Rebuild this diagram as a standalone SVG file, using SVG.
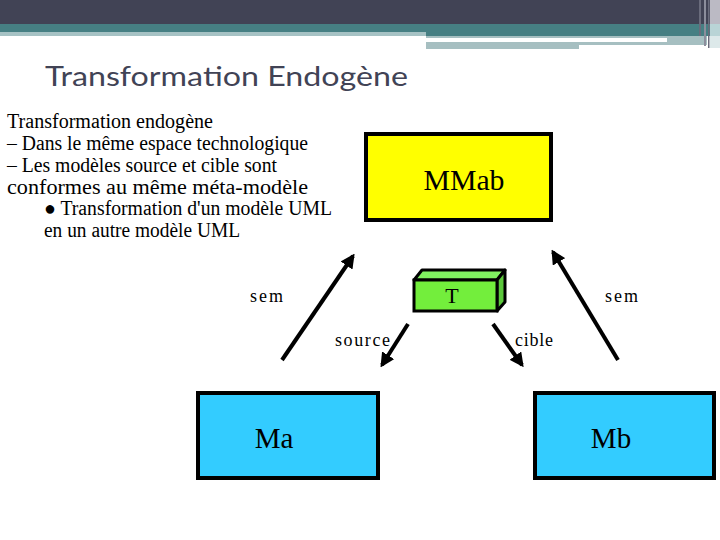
<svg xmlns="http://www.w3.org/2000/svg" width="720" height="540" viewBox="0 0 720 540">
<defs>
<style>
.body{font-family:"Liberation Serif","Times New Roman",serif;font-size:20px;fill:#000}
.lbl{font-family:"Liberation Serif","Times New Roman",serif;font-size:18px;fill:#000}
.big{font-family:"Liberation Serif","Times New Roman",serif;font-size:29px;fill:#000;text-anchor:middle}
.box{stroke:#000;stroke-width:4}
.arr{stroke:#000;stroke-width:4;fill:none;marker-end:url(#ah)}
</style>
<marker id="ah" viewBox="0 0 10 10" refX="8" refY="5" markerWidth="3.6" markerHeight="3.6" orient="auto" markerUnits="strokeWidth">
<path d="M0,0 L10,5 L0,10 z" fill="#000"/>
</marker>
</defs>
<rect width="720" height="540" fill="#fff"/>
<g id="header">
<rect x="0" y="0" width="720" height="24" fill="#414355"/>
<rect x="0" y="24" width="720" height="8" fill="#467F83"/>
<rect x="0" y="32" width="426" height="4" fill="#A6C2C4"/>
<rect x="426" y="32" width="294" height="4" fill="#467F83"/>
<rect x="426" y="36" width="241" height="2" fill="#A6BFC1"/>
<rect x="426" y="42" width="153" height="7" fill="#A6BFC1"/>
<rect x="579" y="42" width="128" height="3" fill="#A6BFC1"/>
<rect x="667" y="36" width="40" height="9" fill="#A6BFC1"/>
<rect x="699" y="0" width="2" height="36" fill="#6A6C7C"/>
<rect x="704" y="0" width="2" height="46" fill="#8C8E9C"/>
<rect x="708" y="0" width="1.5" height="48" fill="#6A6C7C"/>
<rect x="710" y="0" width="10" height="24" fill="#BBBAC4"/>
<rect x="710" y="24" width="10" height="12" fill="#B9D4D6"/>
<rect x="710" y="36" width="10" height="12" fill="#DDE9EA"/>
</g>
<text x="45" y="86" font-family="Lato,'Open Sans',sans-serif" font-size="27" fill="#414355" textLength="363" lengthAdjust="spacingAndGlyphs">Transformation Endogène</text>
<g id="desc">
<text class="body" x="7" y="128" textLength="206" lengthAdjust="spacingAndGlyphs">Transformation endogène</text>
<text class="body" x="7" y="150" textLength="301" lengthAdjust="spacingAndGlyphs">– Dans le même espace technologique</text>
<text class="body" x="7" y="172" textLength="270" lengthAdjust="spacingAndGlyphs">– Les modèles source et cible sont</text>
<text class="body" x="7" y="194" textLength="301" lengthAdjust="spacingAndGlyphs">conformes au même méta-modèle</text>
<text class="body" x="44" y="215" textLength="288" lengthAdjust="spacingAndGlyphs">● Transformation d'un modèle UML</text>
<text class="body" x="44" y="237" textLength="196" lengthAdjust="spacingAndGlyphs">en un autre modèle UML</text>
</g>
<g id="MMab">
<rect class="box" x="366" y="134" width="185" height="86" fill="#FFFF00"/>
<text class="big" x="464" y="190" textLength="81" lengthAdjust="spacingAndGlyphs">MMab</text>
</g>
<g id="T">
<polygon points="414,280 422,270 505,270 497,280" fill="#80F060" stroke="#000" stroke-width="3" stroke-linejoin="round"/>
<polygon points="497,280 505,270 505,302 497,311" fill="#5CC83C" stroke="#000" stroke-width="3" stroke-linejoin="round"/>
<rect x="414" y="280" width="83" height="31" fill="#73EE3C" stroke="#000" stroke-width="3"/>
<text x="452" y="303" font-family="'Liberation Serif',serif" font-size="22" text-anchor="middle">T</text>
</g>
<g id="Ma">
<rect class="box" x="198" y="393" width="180" height="85" fill="#33CCFF"/>
<text class="big" x="274" y="448">Ma</text>
</g>
<g id="Mb">
<rect class="box" x="535" y="393" width="179" height="85" fill="#33CCFF"/>
<text class="big" x="611" y="448">Mb</text>
</g>
<g id="connectors">
<line class="arr" x1="282" y1="360" x2="353" y2="256"/>
<line class="arr" x1="618" y1="360" x2="553" y2="252"/>
<line class="arr" x1="408" y1="324" x2="382" y2="365"/>
<line class="arr" x1="493" y1="324" x2="522" y2="365"/>
</g>
<g id="labels">
<text class="lbl" x="250" y="302" textLength="33" lengthAdjust="spacing">sem</text>
<text class="lbl" x="605" y="302" textLength="33" lengthAdjust="spacing">sem</text>
<text class="lbl" x="335" y="346" textLength="55" lengthAdjust="spacing">source</text>
<text class="lbl" x="515" y="346" textLength="38" lengthAdjust="spacing">cible</text>
</g>
</svg>
